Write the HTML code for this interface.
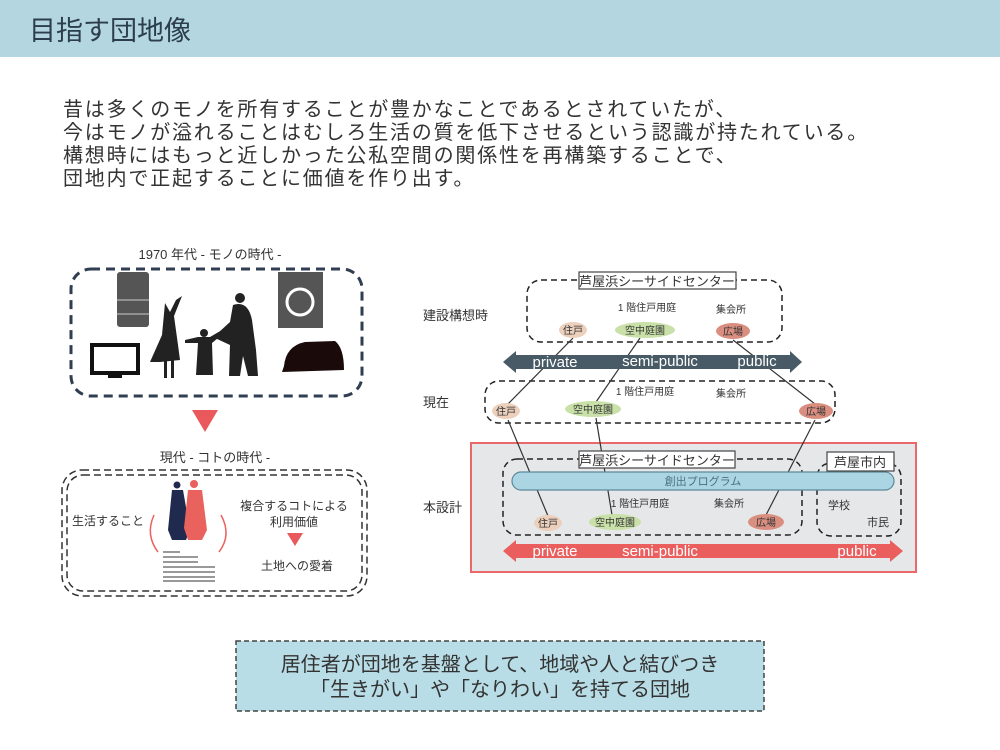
<!DOCTYPE html>
<html><head><meta charset="utf-8"><style>
body{margin:0;width:1000px;height:750px;background:#fff;overflow:hidden}
svg{display:block}
text{font-family:"Liberation Sans","Noto Sans CJK JP",sans-serif}
</style></head><body>
<svg width="1000" height="750" viewBox="0 0 1000 750" xmlns="http://www.w3.org/2000/svg">
<rect x="0" y="0" width="1000" height="57" fill="#b3d6e0"/>
<text x="29" y="40" font-size="27" fill="#2c3e4c">目指す団地像</text>
<g font-size="20" fill="#333" letter-spacing="1.8">
<text x="63" y="116">昔は多くのモノを所有することが豊かなことであるとされていたが、</text>
<text x="63" y="139">今はモノが溢れることはむしろ生活の質を低下させるという認識が持たれている。</text>
<text x="63" y="162">構想時にはもっと近しかった公私空間の関係性を再構築することで、</text>
<text x="63" y="185">団地内で正起することに価値を作り出す。</text>
</g>

<!-- left top -->
<text x="210" y="259" font-size="13" fill="#333" text-anchor="middle">1970 年代 - モノの時代 -</text>
<rect x="71" y="269" width="291" height="127" rx="20" fill="none" stroke="#2f3e50" stroke-width="3" stroke-dasharray="9,6"/>
<rect x="117" y="272" width="32" height="55" rx="3" fill="#555"/>
<line x1="117" y1="300" x2="149" y2="300" stroke="#ccc"/><line x1="117" y1="314" x2="149" y2="314" stroke="#ccc"/>
<rect x="92" y="345" width="46" height="28" fill="none" stroke="#111" stroke-width="4"/>
<rect x="108" y="373" width="14" height="5" fill="#111"/>
<rect x="278" y="272" width="45" height="56" fill="#555"/>
<circle cx="300" cy="302" r="13" fill="none" stroke="#fff" stroke-width="3"/>
<path d="M284 366 Q286 346 305 342 L335 341 Q344 348 344 370 L282 372Z" fill="#1a0a0a"/>
<!-- woman -->
<path d="M165 303 L170 312 L176 300 L182 296 L174 316 L178 345 L180 360 L160 362 L150 362 L162 335Z" fill="#222"/>
<rect x="164" y="358" width="3" height="20" fill="#222"/><rect x="171" y="358" width="3" height="20" fill="#222"/>
<!-- child -->
<circle cx="204" cy="333" r="4" fill="#222"/>
<path d="M185 340 L198 337 L210 337 L222 330 L224 333 L212 343 L213 375 L196 375 L198 343 L185 343Z" fill="#222"/>
<!-- man -->
<circle cx="240" cy="298" r="5" fill="#222"/>
<path d="M233 305 Q248 300 252 320 L256 350 L258 376 L248 376 L243 356 L240 376 L229 376 L230 345 L215 338 L218 333 L230 322Z" fill="#222"/>
<!-- triangle -->
<polygon points="192,410 218,410 205,432" fill="#e9595b"/>
<text x="215" y="462" font-size="13" fill="#333" text-anchor="middle">現代 - コトの時代 -</text>
<rect x="62" y="470" width="305" height="126" rx="20" fill="none" stroke="#333" stroke-width="1.5" stroke-dasharray="7,4"/>
<rect x="67" y="475" width="295" height="116" rx="16" fill="none" stroke="#333" stroke-width="1.5" stroke-dasharray="7,4"/>
<text x="108" y="525" font-size="12" fill="#333" text-anchor="middle">生活すること</text>
<text x="294" y="510" font-size="12" fill="#333" text-anchor="middle">複合するコトによる</text>
<text x="294" y="526" font-size="12" fill="#333" text-anchor="middle">利用価値</text>
<polygon points="287,533 303,533 295,546" fill="#e9595b"/>
<text x="297" y="570" font-size="12" fill="#333" text-anchor="middle">土地への愛着</text>
<circle cx="177" cy="485" r="3.5" fill="#1f2a4e"/>
<path d="M172 490 L183 490 L190 530 L186 540 L172 540 L168 530Z" fill="#1f2a4e"/>
<circle cx="194" cy="484" r="4" fill="#e9625d"/>
<path d="M188 490 L202 490 L207 530 L202 540 L188 540 L184 528Z" fill="#e9625d"/>
<path d="M154 515 Q145 535 158 552" fill="none" stroke="#e9625d" stroke-width="1.5"/>
<path d="M221 515 Q232 535 219 552" fill="none" stroke="#e9625d" stroke-width="1.5"/>
<g stroke="#999" stroke-width="2">
<line x1="163" y1="552" x2="180" y2="552"/><line x1="163" y1="557" x2="198" y2="557"/><line x1="163" y1="562" x2="198" y2="562"/><line x1="163" y1="567" x2="215" y2="567"/><line x1="163" y1="572" x2="215" y2="572"/><line x1="163" y1="577" x2="215" y2="577"/><line x1="163" y1="581" x2="215" y2="581"/>
</g>

<!-- right diagram -->
<g font-size="13" fill="#333">
<text x="423" y="320">建設構想時</text>
<text x="423" y="407">現在</text>
<text x="423" y="512">本設計</text>
</g>
<rect x="471" y="443" width="445" height="129" fill="#e6e7e9" stroke="#e9686a" stroke-width="2"/>
<g fill="none" stroke="#222" stroke-width="1.5" stroke-dasharray="6,4">
<rect x="527" y="280" width="255" height="62" rx="14"/>
<rect x="485" y="381" width="350" height="42" rx="14"/>
<rect x="503" y="459" width="299" height="76" rx="14"/>
<rect x="817" y="463" width="84" height="73" rx="14"/>
</g>
<g stroke="#333" stroke-width="1.2">
<line x1="573" y1="338" x2="508" y2="404"/><line x1="640" y1="338" x2="596" y2="402"/><line x1="733" y1="340" x2="815" y2="404"/>
</g>
<polygon points="503,362 516,351 516,355 790,355 790,351 802,362 790,373 790,369 516,369 516,373" fill="#475a66"/>
<g font-size="15" fill="#fff" text-anchor="middle"><text x="555" y="367">private</text><text x="660" y="366">semi-public</text><text x="757" y="366">public</text></g>
<rect x="579" y="272" width="157" height="17" fill="#fff" stroke="#444" stroke-width="1.2"/>
<text x="657" y="286" font-size="13" fill="#333" text-anchor="middle">芦屋浜シーサイドセンター</text>
<g font-size="10" fill="#333" text-anchor="middle">
<text x="647" y="311">1 階住戸用庭</text><text x="731" y="313">集会所</text>
<text x="645" y="395">1 階住戸用庭</text><text x="731" y="397">集会所</text>
<text x="640" y="507">1 階住戸用庭</text><text x="729" y="507">集会所</text>
</g>
<g font-size="10" fill="#333" text-anchor="middle">
<ellipse cx="573" cy="330" rx="14" ry="8" fill="#ecd0bc"/><text x="573" y="334">住戸</text>
<ellipse cx="645" cy="330" rx="30" ry="8" fill="#c9e0a8"/><text x="645" y="334">空中庭園</text>
<ellipse cx="733" cy="331" rx="17" ry="8" fill="#d98e80"/><text x="733" y="335">広場</text>
</g>
<g stroke="#333" stroke-width="1.2">
<line x1="508" y1="420" x2="548" y2="516"/><line x1="596" y1="418" x2="612" y2="515"/><line x1="815" y1="420" x2="766" y2="515"/>
</g>
<g font-size="10" fill="#333" text-anchor="middle">
<ellipse cx="506" cy="411" rx="14" ry="8" fill="#ecd0bc"/><text x="506" y="415">住戸</text>
<ellipse cx="593" cy="409" rx="28" ry="8" fill="#c9e0a8"/><text x="593" y="413">空中庭園</text>
<ellipse cx="816" cy="411" rx="17" ry="8" fill="#d98e80"/><text x="816" y="415">広場</text>
</g>
<rect x="512" y="472" width="382" height="18" rx="9" fill="#acd5e3" stroke="#5a8a9a" stroke-width="1.2"/>
<text x="703" y="485" font-size="11" fill="#4a7080" text-anchor="middle">創出プログラム</text>
<rect x="579" y="451" width="156" height="17" fill="#fff" stroke="#444" stroke-width="1.2"/>
<text x="657" y="465" font-size="13" fill="#333" text-anchor="middle">芦屋浜シーサイドセンター</text>
<rect x="827" y="452" width="67" height="19" fill="#fff" stroke="#444" stroke-width="1.2"/>
<text x="860" y="467" font-size="13" fill="#333" text-anchor="middle">芦屋市内</text>
<text x="839" y="509" font-size="11" fill="#333" text-anchor="middle">学校</text>
<text x="878" y="526" font-size="11" fill="#333" text-anchor="middle">市民</text>
<g font-size="10" fill="#333" text-anchor="middle">
<ellipse cx="548" cy="523" rx="14" ry="8" fill="#ecd0bc"/><text x="548" y="527">住戸</text>
<ellipse cx="615" cy="522" rx="26" ry="8" fill="#c9e0a8"/><text x="615" y="526">空中庭園</text>
<ellipse cx="766" cy="522" rx="18" ry="8" fill="#d98e80"/><text x="766" y="526">広場</text>
</g>
<polygon points="503,551 516,540 516,544 890,544 890,540 903,551 890,562 890,558 516,558 516,562" fill="#ea5e5e"/>
<g font-size="15" fill="#fff" text-anchor="middle"><text x="555" y="556">private</text><text x="660" y="556">semi-public</text><text x="857" y="556">public</text></g>

<!-- bottom -->
<rect x="236" y="641" width="528" height="70" fill="#b8dde6" stroke="#444" stroke-width="1.5" stroke-dasharray="5,3"/>
<text x="500" y="671" font-size="20" fill="#333" text-anchor="middle">居住者が団地を基盤として、地域や人と結びつき</text>
<text x="500" y="696" font-size="20" fill="#333" text-anchor="middle">「生きがい」や「なりわい」を持てる団地</text>
</svg>
</body></html>
